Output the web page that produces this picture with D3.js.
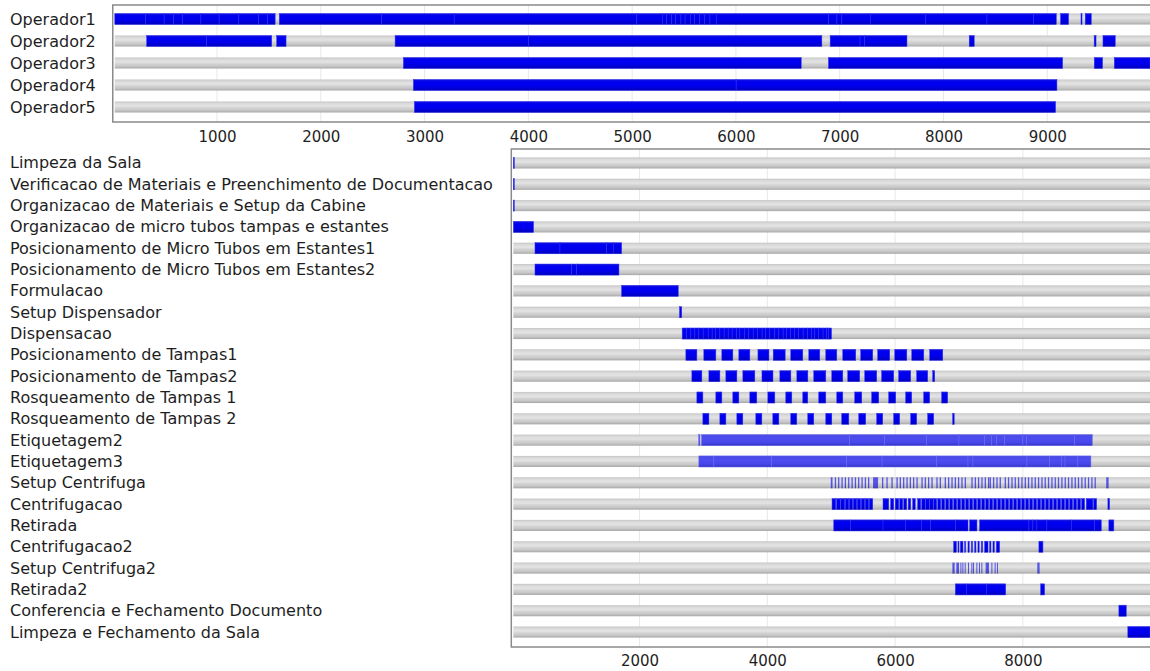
<!DOCTYPE html>
<html><head><meta charset="utf-8">
<script src="https://cdn.jsdelivr.net/npm/d3@7"></script>
<style>
body{margin:0;background:#fff;}
text{font-family:"DejaVu Sans",sans-serif;fill:#1e1e1e;}
</style>
</head><body>
<svg id="c" width="1150" height="671"></svg>
<script>
// ---------------- DATA ----------------
const timeMax = 9990;
const topTicks = [1000,2000,3000,4000,5000,6000,7000,8000,9000];
const bottomTicks = [2000,4000,6000,8000];

const operators = ["Operador1","Operador2","Operador3","Operador4","Operador5"];
const segOperador1 = [[15,313],[313,490],[490,580],[580,670],[670,845],[845,1020],[1020,1210],[1210,1400],[1400,1489],[1489,1560],
  [1600,2587],[2587,3285],[3285,5045],[5045,5290],[5290,5330],[5330,5380],[5380,5420],[5420,5470],[5470,5510],[5510,5560],
  [5560,5600],[5600,5650],[5650,5700],[5700,5750],[5750,5810],[5810,6892],[6892,6973],[6973,7021],[7021,7294],[7294,7830],
  [7830,8419],[8419,8868],[8868,9087],[9128,9205],[9325,9335],[9366,9424]];
const segOperador2 = [[322,900],[900,1527],[1575,1665],[2716,4000],[4000,6828],[6908,7196],[7196,7240],[7240,7648],[8248,8296],[9452,9470],[9537,9655]];
const segOperador3 = [[2796,6629],[6892,9148],[9453,9533],[9646,9990]];
const segOperador4 = [[2892,6002],[6002,9093]];
const segOperador5 = [[2902,9080]];
const operatorSegments = [segOperador1,segOperador2,segOperador3,segOperador4,segOperador5];

const tasks = ["Limpeza da Sala","Verificacao de Materiais e Preenchimento de Documentacao","Organizacao de Materiais e Setup da Cabine",
  "Organizacao de micro tubos tampas e estantes","Posicionamento de Micro Tubos em Estantes1","Posicionamento de Micro Tubos em Estantes2",
  "Formulacao","Setup Dispensador","Dispensacao","Posicionamento de Tampas1","Posicionamento de Tampas2","Rosqueamento de Tampas 1",
  "Rosqueamento de Tampas 2","Etiquetagem2","Etiquetagem3","Setup Centrifuga","Centrifugacao","Retirada","Centrifugacao2",
  "Setup Centrifuga2","Retirada2","Conferencia e Fechamento Documento","Limpeza e Fechamento da Sala"];

const segLimpeza = [[0,25]];
const segVerificacao = [[10,30]];
const segOrgMateriais = [[20,35]];
const segOrgMicroTubos = [[25,340]];
const segPosMicro1 = [[363,754],[754,1484],[1484,1588],[1588,1719]];
const segPosMicro2 = [[363,937],[937,1015],[1015,1677]];
const segFormulacao = [[1719,2605]];
const segSetupDispensador = [[2625,2660]];
const segDispensacao = [[2667,2736],[2736,2803],[2803,2866],[2866,2928],[2928,2995],[2995,3074],[3074,3136],[3136,3189],[3189,3257],
  [3257,3324],[3324,3387],[3387,3449],[3449,3518],[3518,3570],[3570,3648],[3648,3710],[3710,3778],[3778,3846],[3846,3918],[3918,3972],
  [3972,4039],[4039,4117],[4117,4180],[4180,4247],[4247,4300],[4300,4367],[4367,4430],[4430,4492],[4492,4560],[4560,4629],[4629,4691],
  [4691,4743],[4743,4805],[4805,4872],[4872,4926],[4926,4962],[4962,5004]];
const segTampas1 = [[2725,2897],[3006,3194],[3288,3460],[3554,3726],[3853,4025],[4092,4279],[4367,4555],[4649,4821],[4915,5087],
  [5181,5384],[5462,5650],[5728,5916],[5995,6183],[6261,6449],[6542,6746]];
const segTampas2 = [[2819,2975],[3085,3257],[3351,3523],[3617,3804],[3916,4088],[4196,4368],[4462,4634],[4727,4915],[5009,5181],
  [5259,5446],[5525,5712],[5790,5978],[6056,6244],[6338,6510],[6589,6620]];
const segRosq1 = [[2897,2991],[3194,3288],[3460,3554],[3726,3835],[4008,4117],[4289,4383],[4555,4633],[4805,4915],[5087,5181],
  [5368,5478],[5634,5744],[5900,6010],[6166,6260],[6448,6541],[6729,6823]];
const segRosq2 = [[2991,3085],[3257,3351],[3523,3616],[3820,3914],[4086,4180],[4367,4461],[4633,4727],[4915,5009],[5165,5275],
  [5431,5540],[5712,5806],[5978,6072],[6244,6338],[6510,6604],[6901,6925]];
const segEtiquetagem2 = [[2925,2945],[2970,5290],[5290,5838],[5838,6490],[6490,7000],[7000,7399],[7399,7506],[7506,7585],[7585,7715],
  [7715,8001],[8001,8054],[8054,8810],[8810,9087]];
const segEtiquetagem3 = [[2928,3163],[3163,4065],[4065,5239],[5239,5796],[5796,6646],[6646,7141],[7141,7219],[7219,8064],[8064,8419],
  [8419,8602],[8602,8660],[8660,8861],[8861,9065]];
const segSetupCentrifuga = [[4993,5020],[5056,5076],[5107,5127],[5160,5180],[5212,5232],[5264,5284],[5317,5337],[5369,5389],[5420,5440],
  [5473,5493],[5525,5545],[5576,5596],[5655,5733],[5795,5815],[5864,5884],[5942,5962],[6021,6041],[6072,6092],[6124,6144],[6177,6197],
  [6229,6249],[6280,6300],[6334,6354],[6412,6432],[6463,6483],[6515,6535],[6568,6588],[6646,6666],[6698,6718],[6776,6796],[6828,6848],
  [6881,6901],[6933,6953],[6984,7004],[7037,7057],[7089,7109],[7194,7214],[7246,7266],[7297,7317],[7350,7370],[7402,7422],[7454,7474],
  [7480,7500],[7532,7552],[7585,7605],[7636,7656],[7715,7735],[7766,7786],[7820,7840],[7871,7891],[7923,7943],[7976,7996],[8028,8048],
  [8079,8099],[8132,8152],[8184,8204],[8236,8256],[8289,8309],[8340,8360],[8392,8412],[8445,8465],[8497,8517],[8548,8568],[8601,8621],
  [8653,8673],[8705,8725],[8758,8778],[8810,8830],[8861,8881],[8914,8934],[8966,8986],[9018,9038],[9071,9091],[9122,9142],[9305,9342]];
const segCentrifugacao = [[5013,5071],[5082,5141],[5149,5212],[5220,5275],[5282,5337],[5345,5400],[5407,5462],[5470,5525],[5532,5587],
  [5595,5650],[5811,5900],[5931,5978],[6002,6057],[6072,6119],[6135,6182],[6205,6244],[6276,6315],[6354,6401],[6416,6471],[6479,6534],
  [6541,6596],[6604,6651],[6667,6714],[6729,6776],[6792,6839],[6854,6901],[6917,6964],[6979,7026],[7042,7089],[7104,7151],[7167,7214],
  [7230,7276],[7292,7339],[7355,7402],[7417,7464],[7480,7527],[7542,7589],[7605,7652],[7667,7714],[7730,7777],[7793,7840],[7855,7902],
  [7918,7965],[7980,8027],[8043,8090],[8106,8152],[8168,8215],[8231,8278],[8293,8340],[8356,8403],[8418,8465],[8481,8528],[8544,8591],
  [8606,8653],[8669,8716],[8731,8778],[8794,8841],[8857,8903],[8919,8966],[8993,9096],[9107,9154],[9331,9357]];
const segRetirada = [[5040,5301],[5301,5811],[5811,6161],[6161,6411],[6411,6557],[6557,6948],[6948,7141],[7167,7281],[7323,8095],
  [8095,8157],[8157,8220],[8220,8376],[8376,8758],[8758,9122],[9122,9227],[9346,9424]];
const segCentrifugacao2 = [[6917,6959],[6984,7000],[7022,7062],[7089,7105],[7141,7160],[7194,7212],[7246,7265],[7297,7316],[7350,7370],
  [7402,7454],[7480,7500],[7532,7552],[7585,7636],[8251,8314]];
const segSetupCentrifuga2 = [[6897,6932],[6959,7000],[7022,7036],[7053,7067],[7089,7103],[7141,7155],[7194,7208],[7219,7233],[7272,7286],
  [7313,7327],[7350,7364],[7417,7469],[7507,7521],[7558,7572],[7594,7608],[8226,8262]];
const segRetirada2 = [[6943,7115],[7115,7428],[7428,7731],[8278,8340]];
const segConferencia = [[9503,9618]];
const segLimpezaFechamento = [[9643,9990]];
const taskSegments = [segLimpeza,segVerificacao,segOrgMateriais,segOrgMicroTubos,segPosMicro1,segPosMicro2,segFormulacao,
  segSetupDispensador,segDispensacao,segTampas1,segTampas2,segRosq1,segRosq2,segEtiquetagem2,segEtiquetagem3,segSetupCentrifuga,
  segCentrifugacao,segRetirada,segCentrifugacao2,segSetupCentrifuga2,segRetirada2,segConferencia,segLimpezaFechamento];

// ---------------- STYLES ----------------
const lightRows = new Set(["Etiquetagem2","Etiquetagem3"]);
const thinRows = new Set(["Setup Centrifuga","Setup Centrifuga2"]);

const svg = d3.select("#c");
const defs = svg.append("defs");
const gGray = defs.append("linearGradient").attr("id","gray").attr("x1",0).attr("y1",0).attr("x2",0).attr("y2",1);
[["0%","#c4c4c4"],["15%","#d8d8d8"],["40%","#e4e4e4"],["60%","#d2d2d2"],["80%","#c6c6c6"],["100%","#a6a6a6"]]
  .forEach(([o,c])=>gGray.append("stop").attr("offset",o).attr("stop-color",c));
const gBlue = defs.append("linearGradient").attr("id","blue").attr("x1",0).attr("y1",0).attr("x2",0).attr("y2",1);
[["0%","#1414d6"],["20%","#0000f2"],["60%","#0000ec"],["100%","#0000bc"]]
  .forEach(([o,c])=>gBlue.append("stop").attr("offset",o).attr("stop-color",c));
const gLight = defs.append("linearGradient").attr("id","light").attr("x1",0).attr("y1",0).attr("x2",0).attr("y2",1);
[["0%","#4a4ae0"],["30%","#4c4cf0"],["70%","#4848ea"],["100%","#3535c8"]]
  .forEach(([o,c])=>gLight.append("stop").attr("offset",o).attr("stop-color",c));

function gantt(cfg){
  const x = d3.scaleLinear().domain([0,timeMax]).range([cfg.left, 1150]);
  const y = d3.scaleBand().domain(cfg.rows).range([cfg.bandTop, cfg.bandBottom])
    .paddingInner(cfg.pad).paddingOuter(cfg.pad/2);
  const g = svg.append("g");
  g.selectAll("line.grid").data(cfg.ticks).join("line")
    .attr("x1",d=>x(d)).attr("x2",d=>x(d)).attr("y1",cfg.frameTop).attr("y2",cfg.frameBottom)
    .attr("stroke","#e8e8e8").attr("stroke-width",1);
  g.selectAll("rect.bg").data(cfg.rows).join("rect")
    .attr("x",x(0)+1.5).attr("width",1150-x(0))
    .attr("y",d=>y(d)).attr("height",y.bandwidth()).attr("fill","url(#gray)");
  cfg.rows.forEach((r,i)=>{
    const light = lightRows.has(r), thin = thinRows.has(r);
    g.selectAll(null).data(cfg.segs[i]).join("rect")
      .attr("x",d=>Math.max(x(0)+1.5, x(d[0]))).attr("width",d=>Math.max(1,x(d[1])-Math.max(x(0)+1.5, x(d[0]))))
      .attr("y",y(r)).attr("height",y.bandwidth())
      .attr("fill",light?"url(#light)":"url(#blue)")
      .attr("fill-opacity",thin?0.62:1)
      .attr("stroke",light?"#6a6af4":"#3030f4").attr("stroke-width",thin?0:0.5);
  });
  g.append("rect").attr("x",cfg.left-0.5).attr("y",cfg.frameTop)
    .attr("width",1160-cfg.left).attr("height",cfg.frameBottom-cfg.frameTop)
    .attr("fill","none").attr("stroke","#8a8a8a").attr("stroke-width",1.5);
  g.selectAll("text.lab").data(cfg.rows).join("text")
    .attr("x",10).attr("y",d=>y(d)+y.bandwidth()/2).attr("dominant-baseline","central")
    .style("font-size","16px").text(d=>d);
  const ax = svg.append("g").attr("transform",`translate(0,${cfg.frameBottom})`)
    .call(d3.axisBottom(x).tickValues(cfg.ticks).tickSize(0).tickPadding(cfg.tickPad).tickFormat(d3.format("d")));
  ax.select(".domain").remove();
  ax.selectAll("text").style("font-size","15px").style("font-family","DejaVu Sans, sans-serif").attr("fill","#1e1e1e");
}

gantt({rows:operators, segs:operatorSegments, left:113.25, bandTop:8, bandBottom:118, pad:0.5,
  frameTop:5, frameBottom:122, ticks:topTicks, tickPad:9});
gantt({rows:tasks, segs:taskSegments, left:511.8, bandTop:152.3, bandBottom:642.7, pad:0.48,
  frameTop:149, frameBottom:647, ticks:bottomTicks, tickPad:8});
</script>
</body></html>
